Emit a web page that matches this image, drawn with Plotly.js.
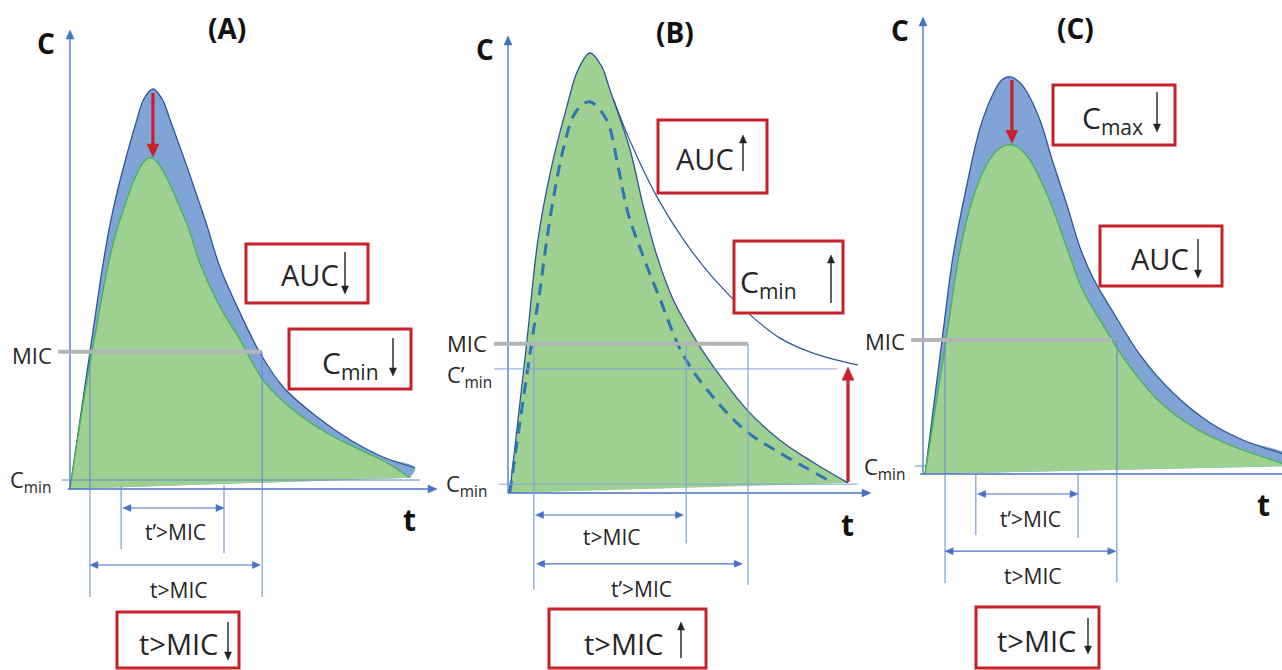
<!DOCTYPE html>
<html><head><meta charset="utf-8">
<script src="https://cdn.plot.ly/plotly-3.0.1.min.js"></script>
<style>html,body{margin:0;padding:0;background:#fff;}#chart{width:1282px;height:670px;}</style>
</head><body><div id="chart"></div>
<script>
// ---------- DATA (arbitrary units: t = time, C = concentration) ----------
// Panel A: reference profile vs. profile with reduced dose
const tA_ref = [0, 0.57, 1.17, 1.91, 2.11, 2.37, 2.63, 2.86, 3.86, 4.29, 4.86, 5.43, 6.09, 7.06, 8.0, 8.94, 9.86];
const cA_ref = [0, 3.43, 6.73, 9.23, 9.75, 10.0, 9.75, 9.23, 6.73, 5.53, 4.4, 3.4, 2.55, 1.8, 1.23, 0.8, 0.53];
const tA_new = [0, 0.63, 1.43, 2.29, 3.29, 3.71, 4.29, 4.86, 5.51, 6.37, 7.34, 8.29, 9.06, 9.71];
const cA_new = [0, 3.43, 6.73, 8.28, 6.73, 5.65, 4.55, 3.73, 2.73, 1.98, 1.4, 0.98, 0.65, 0.28];
const micA = 3.43, cminA = 0.225;
const tMicA = [0.57, 5.49];      // t>MIC limits
const tpMicA = [1.46, 4.4];      // t'>MIC limits

// Panel B: prolonged profile (filled), extended tail and original (dashed)
const tB = [0.05, 0.55, 0.88, 1.24, 1.73, 2.05, 2.41, 2.75, 3.0, 3.59, 3.97, 4.38, 4.85, 5.56, 6.24, 7.03, 8.0, 8.97, 10.0];
const cB = [0, 3.41, 5.75, 7.27, 8.78, 9.6, 10.0, 9.7, 9.16, 7.8, 6.55, 5.39, 4.41, 3.43, 2.66, 1.89, 1.2, 0.7, 0.23];
const tB_tail = [3.1, 3.59, 4.38, 5.15, 6.03, 7.03, 8.0, 8.97, 10.29];
const cB_tail = [8.95, 8.0, 6.73, 5.77, 4.89, 4.11, 3.52, 3.18, 2.91];
const tB_dash = [0.05, 0.35, 0.74, 0.94, 1.14, 1.38, 1.62, 1.91, 2.15, 2.41, 2.9, 3.24, 3.53, 3.97, 4.47, 5.15, 6.03, 7.03, 8.0, 9.47];
const cB_dash = [0, 1.6, 3.64, 4.61, 5.75, 6.89, 7.8, 8.55, 8.8, 8.89, 8.48, 7.41, 6.36, 5.39, 4.41, 3.14, 2.18, 1.39, 0.91, 0.27];
const micB = 3.39, cminB = 0.2, cpminB = 2.82;
const tMicB = [0.76, 5.24];
const tpMicB = [0.76, 7.06];

// Panel C: reference profile vs. profile with reduced Cmax
const tC_ref = [0.06, 0.57, 0.86, 1.26, 1.63, 2.0, 2.25, 2.49, 2.75, 2.97, 3.34, 3.71, 4.11, 4.49, 4.86, 5.43, 6.2, 7.14, 8.2, 9.14, 10.5];
const cC_ref = [0, 3.53, 5.45, 7.25, 8.65, 9.5, 9.85, 9.93, 9.8, 9.55, 8.85, 7.8, 6.73, 5.65, 4.9, 4.05, 2.98, 2.03, 1.28, 0.85, 0.45];
const tC_new = [0.06, 0.69, 1.06, 1.43, 1.83, 2.2, 2.54, 2.97, 3.54, 4.11, 4.57, 5.14, 5.83, 6.77, 7.71, 8.69, 10.5];
const cC_new = [0, 3.53, 5.6, 6.9, 7.75, 8.15, 8.23, 7.95, 7.0, 5.65, 4.58, 3.73, 2.78, 1.8, 1.18, 0.75, 0.2];
const micC = 3.35, cminC = 0.2;
const tMicC = [0.63, 5.54];
const tpMicC = [1.51, 4.43];

// ---------- LAYOUT HELPERS ----------
const W = 1282, H = 670;
const PAN = {
  A: {ox: 70, oy: 489, sx: 35, sy: 40, xa: 'x', ya: 'y'},
  B: {ox: 508, oy: 493, sx: 34, sy: 44, xa: 'x2', ya: 'y2'},
  C: {ox: 923, oy: 474, sx: 35, sy: 40, xa: 'x3', ya: 'y3'}
};
const P = x => x / W, Q = y => 1 - y / H;
const toPx = (p, t, c) => [p.ox + t * p.sx, p.oy - c * p.sy];
const BLUE_FILL = 'rgb(128,164,214)', GREEN_FILL = 'rgb(157,208,145)';
const DARK_BLUE = '#2f5597', GREEN_LINE = '#46b450', AXIS = '#4472c4';
const RED = '#c8202a', TXT = '#262626', FONT = 'Open Sans, Segoe UI, sans-serif';
const last = a => a[a.length - 1];

const traces = [];
function fillTrace(p, xs, ys, color) {
  traces.push({x: xs, y: ys, xaxis: p.xa, yaxis: p.ya, mode: 'lines', fill: 'toself', fillcolor: color,
    line: {width: 0, shape: 'spline', color: color}, hoverinfo: 'skip'});
}
function lineTrace(p, xs, ys, color, width, dash) {
  traces.push({x: xs, y: ys, xaxis: p.xa, yaxis: p.ya, mode: 'lines',
    line: {width: width, shape: 'spline', color: color, dash: dash || 'solid'}, hoverinfo: 'skip'});
}
// Panel A
fillTrace(PAN.A, tA_ref.concat([last(tA_new)]), cA_ref.concat([last(cA_new)]), BLUE_FILL);
lineTrace(PAN.A, tA_ref, cA_ref, DARK_BLUE, 1.3);
fillTrace(PAN.A, tA_new, cA_new, GREEN_FILL);
lineTrace(PAN.A, tA_new, cA_new, GREEN_LINE, 1.3);
// Panel B
fillTrace(PAN.B, tB, cB, GREEN_FILL);
lineTrace(PAN.B, tB, cB, DARK_BLUE, 1.3);
lineTrace(PAN.B, tB_tail, cB_tail, DARK_BLUE, 1.2);
lineTrace(PAN.B, tB_dash, cB_dash, '#2e75b6', 3, '12px,8px');
// Panel C
fillTrace(PAN.C, tC_ref.concat([last(tC_new)]), cC_ref.concat([last(cC_new)]), BLUE_FILL);
lineTrace(PAN.C, tC_ref, cC_ref, DARK_BLUE, 1.3);
fillTrace(PAN.C, tC_new, cC_new, GREEN_FILL);
lineTrace(PAN.C, tC_new, cC_new, GREEN_LINE, 1.3);

const shapes = [];
const ann = [];
function seg(p, x0, y0, x1, y1, color, width) {
  shapes.push({type: 'line', xref: p.xa, yref: p.ya, x0: x0, y0: y0, x1: x1, y1: y1,
    line: {color: color, width: width}, layer: 'above'});
}
function box(x0, y0, x1, y1) {
  shapes.push({type: 'rect', xref: 'paper', yref: 'paper', x0: P(x0), y0: Q(y1), x1: P(x1), y1: Q(y0),
    line: {color: RED, width: 3}, fillcolor: '#ffffff', layer: 'above'});
}
function text(x, y, t, size, bold) {
  ann.push({xref: 'paper', yref: 'paper', x: P(x), y: Q(y), text: bold ? '<b>' + t + '</b>' : t,
    showarrow: false, xanchor: 'center', yanchor: 'middle', font: {family: FONT, size: size, color: bold ? '#111' : TXT}});
}
// arrow drawn as line + filled triangle head(s); coordinates in pixels
function arrowPix(x0, y0, x1, y1, color, w, hl, hw, both) {
  const dx = x1 - x0, dy = y1 - y0, L = Math.hypot(dx, dy), ux = dx / L, uy = dy / L, nx = -uy, ny = ux;
  const head = (tx, ty, sx, sy) => {
    const bx = tx - sx * hl, by = ty - sy * hl;
    const pts = [[tx, ty], [bx + nx * hw / 2, by + ny * hw / 2], [bx - nx * hw / 2, by - ny * hw / 2]];
    shapes.push({type: 'path', xref: 'paper', yref: 'paper', layer: 'above',
      path: 'M' + pts.map(q => P(q[0]) + ',' + Q(q[1])).join('L') + 'Z',
      fillcolor: color, line: {color: color, width: 0.5}});
  };
  const sx0 = both ? x0 + ux * hl * 0.8 : x0, sy0 = both ? y0 + uy * hl * 0.8 : y0;
  shapes.push({type: 'line', xref: 'paper', yref: 'paper', layer: 'above',
    x0: P(sx0), y0: Q(sy0), x1: P(x1 - ux * hl * 0.8), y1: Q(y1 - uy * hl * 0.8), line: {color: color, width: w}});
  head(x1, y1, ux, uy);
  if (both) head(x0, y0, -ux, -uy);
}
function arrowData(p, t0, c0, t1, c1, color, w, hl, hw, both) {
  const a = toPx(p, t0, c0), b = toPx(p, t1, c1);
  arrowPix(a[0], a[1], b[0], b[1], color, w, hl, hw, both);
}

// ----- axes (arrows) -----
arrowData(PAN.A, 0, 0, 0, (489 - 30) / 40, AXIS, 1.3, 9, 8);
arrowData(PAN.A, -0.06, 0, (437 - 70) / 35, 0, AXIS, 1.3, 9, 8);
arrowData(PAN.B, 0, 0, 0, (493 - 36) / 44, AXIS, 1.3, 9, 8);
arrowData(PAN.B, 0, 0, (871 - 508) / 34, 0, AXIS, 1.3, 9, 8);
arrowData(PAN.C, 0, 0, 0, (474 - 17) / 40, AXIS, 1.3, 9, 8);
arrowData(PAN.C, -0.09, 0, 10.6, 0, AXIS, 1.3, 9, 8);

// ----- Panel A reference lines -----
seg(PAN.A, -0.23, cminA, 10.0, cminA, '#5b87cf', 1);
seg(PAN.A, tMicA[0], micA, tMicA[0], -2.7, '#5b87cf', 1);
seg(PAN.A, tMicA[1], micA, tMicA[1], -2.7, '#5b87cf', 1);
seg(PAN.A, tpMicA[0], 0.05, tpMicA[0], -1.5, '#5b87cf', 1);
seg(PAN.A, tpMicA[1], 0.1, tpMicA[1], -1.6, '#5b87cf', 1);
seg(PAN.A, -0.34, micA, tMicA[1], micA, '#b4b4b4', 4);
arrowData(PAN.A, tpMicA[0] + 0.05, -0.475, tpMicA[1], -0.475, AXIS, 1.2, 8, 7, true);
arrowData(PAN.A, tMicA[0], -1.9, tMicA[1] - 0.05, -1.9, AXIS, 1.2, 8, 7, true);
arrowData(PAN.A, 2.37, 9.9, 2.37, 8.3, RED, 3.2, 13, 12);

// ----- Panel B reference lines -----
seg(PAN.B, -0.26, cminB, 10.29, cminB, '#7fa2da', 1);
seg(PAN.B, -0.41, cpminB, 9.68, cpminB, '#7fa2da', 1);
seg(PAN.B, tMicB[0], micB + 0.05, tMicB[0], -2.2, '#7fa2da', 1.2);
seg(PAN.B, tMicB[1], micB, tMicB[1], -1.14, '#7fa2da', 1.2);
seg(PAN.B, tpMicB[1], micB, tpMicB[1], -2.09, '#7fa2da', 1.2);
seg(PAN.B, -0.41, micB, tpMicB[1], micB, '#b4b4b4', 4);
arrowData(PAN.B, tMicB[0] + 0.05, -0.5, tMicB[1] - 0.08, -0.5, AXIS, 1.2, 8, 7, true);
arrowData(PAN.B, tpMicB[0] + 0.08, -1.61, tpMicB[1] - 0.17, -1.61, AXIS, 1.2, 8, 7, true);
arrowData(PAN.B, 10.0, 0.25, 10.0, 2.86, RED, 3.2, 13, 12);

// ----- Panel C reference lines -----
seg(PAN.C, -0.23, cminC, 0.06, cminC, '#5b87cf', 1);
seg(PAN.C, tMicC[0], micC, tMicC[0], -2.73, '#5b87cf', 1);
seg(PAN.C, tMicC[1], micC, tMicC[1], -2.7, '#5b87cf', 1);
seg(PAN.C, tpMicC[0], 0, tpMicC[0], -1.53, '#5b87cf', 1);
seg(PAN.C, tpMicC[1], 0, tpMicC[1], -1.6, '#5b87cf', 1);
seg(PAN.C, -0.34, micC, 5.4, micC, '#b4b4b4', 4);
arrowData(PAN.C, tpMicC[0] + 0.05, -0.5, tpMicC[1], -0.5, AXIS, 1.2, 8, 7, true);
arrowData(PAN.C, tMicC[0], -1.93, tMicC[1] - 0.03, -1.93, AXIS, 1.2, 8, 7, true);
arrowData(PAN.C, 2.54, 9.85, 2.54, 8.27, RED, 3.2, 13, 12);

// ----- labels -----
// Panel A
text(46, 43, 'C', 28, true); text(227, 28, '(A)', 28, true); text(409, 519, 't', 30, true);
text(32, 355, 'MIC', 22); text(30, 481, 'C<sub>min</sub>', 22);
text(175, 532, 't’>MIC', 21); text(178, 590, 't>MIC', 21);
box(246, 244, 368, 303); text(310, 274, 'AUC', 29); arrowPix(345, 252, 345, 294, '#222', 1.4, 8, 7);
box(289, 329, 411, 389); text(350, 364, 'C<sub>min</sub>', 30); arrowPix(393, 338, 393, 376, '#222', 1.4, 8, 7);
box(117, 612, 239, 668); text(178, 643, 't>MIC', 29); arrowPix(228, 622, 228, 660, '#222', 1.4, 8, 7);
// Panel B
text(485, 49, 'C', 28, true); text(675, 32, '(B)', 28, true); text(847, 524, 't', 30, true);
text(467, 343, 'MIC', 22); text(469, 376, 'C’<sub>min</sub>', 22); text(466, 485, 'C<sub>min</sub>', 22);
text(611, 537, 't>MIC', 21); text(641, 589, 't’>MIC', 21);
box(658, 120, 767, 193); text(705, 159, 'AUC', 29); arrowPix(743, 171, 743, 135, '#222', 1.4, 8, 7);
box(734, 241, 843, 313); text(768, 283, 'C<sub>min</sub>', 30); arrowPix(831, 303, 831, 255, '#222', 1.4, 8, 7);
box(549, 609, 706, 668); text(623, 643, 't>MIC', 29); arrowPix(681, 658, 681, 622, '#222', 1.4, 8, 7);
// Panel C
text(900, 30, 'C', 28, true); text(1075, 28, '(C)', 28, true); text(1263, 505, 't', 30, true);
text(885, 341, 'MIC', 22); text(884, 468, 'C<sub>min</sub>', 22);
text(1030, 519, 't’>MIC', 21); text(1032, 576, 't>MIC', 21);
box(1053, 85, 1175, 145); text(1112, 119, 'C<sub>max</sub>', 30); arrowPix(1157, 92, 1157, 132, '#222', 1.4, 8, 7);
box(1100, 226, 1222, 286); text(1160, 259, 'AUC', 29); arrowPix(1198, 239, 1198, 278, '#222', 1.4, 8, 7);
box(976, 607, 1099, 668); text(1036, 640, 't>MIC', 29); arrowPix(1088, 618, 1088, 654, '#222', 1.4, 8, 7);

// ---------- AXES ----------
function axes(p) {
  return [
    {domain: [0, 1], range: [-p.ox / p.sx, (W - p.ox) / p.sx], visible: false, fixedrange: true},
    {domain: [0, 1], range: [(p.oy - H) / p.sy, p.oy / p.sy], visible: false, fixedrange: true}
  ];
}
const [xa, ya] = axes(PAN.A), [xb, yb] = axes(PAN.B), [xc, yc] = axes(PAN.C);
Object.assign(xb, {overlaying: 'x', anchor: 'y2'}); Object.assign(yb, {overlaying: 'y', anchor: 'x2'});
Object.assign(xc, {overlaying: 'x', anchor: 'y3'}); Object.assign(yc, {overlaying: 'y', anchor: 'x3'});

const layout = {
  width: W, height: H, margin: {l: 0, r: 0, t: 0, b: 0},
  paper_bgcolor: '#ffffff', plot_bgcolor: '#ffffff', showlegend: false,
  xaxis: xa, yaxis: ya, xaxis2: xb, yaxis2: yb, xaxis3: xc, yaxis3: yc,
  shapes: shapes, annotations: ann
};
Plotly.newPlot('chart', traces, layout, {displayModeBar: false, staticPlot: true});
</script></body></html>
